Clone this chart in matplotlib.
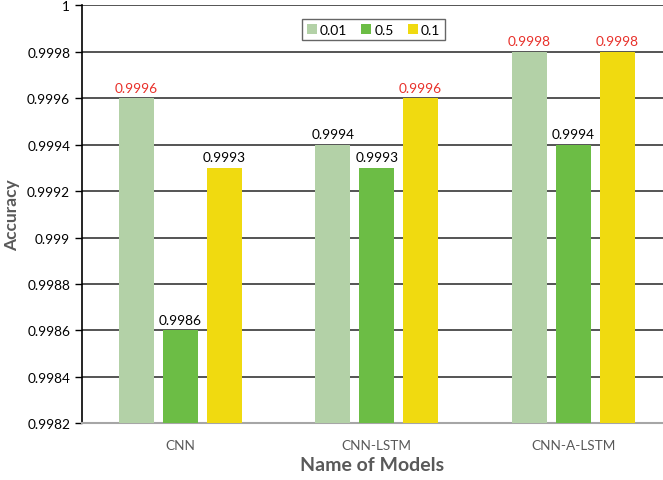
import numpy as np
import matplotlib.pyplot as plt

plt.rcParams['font.family'] = ['Lato', 'DejaVu Sans']

models = ['CNN', 'CNN-LSTM', 'CNN-A-LSTM']
rates = ['0.01', '0.5', '0.1']
acc_001 = [0.9996, 0.9994, 0.9998]
acc_05 = [0.9986, 0.9993, 0.9994]
acc_01 = [0.9993, 0.9996, 0.9998]
colors = ['#B3D1A7', '#6CBD45', '#F0DA10']

series = [acc_001, acc_05, acc_01]
x = np.arange(len(models))
width = 0.178
step = 0.223

fig = plt.figure(figsize=(6.63, 4.81), dpi=100)
ax = fig.add_axes([0.1237, 0.118, 0.8763, 0.8685])

ymin = 0.9982
for i, (vals, c, lab) in enumerate(zip(series, colors, rates)):
    pos = x + (i - 1) * step
    ax.bar(pos, np.array(vals) - ymin, width, bottom=ymin, color=c, label=lab, zorder=3)

# value labels, best value per model in red
best = np.max(np.array(series), axis=0)
for i, vals in enumerate(series):
    for j, v in enumerate(vals):
        col = '#E8302A' if v == best[j] else 'black'
        ax.text(x[j] + (i - 1) * step, v + 0.00002, f'{v:.4f}', ha='center', va='bottom',
                fontsize=9.8, color=col, zorder=4)

ax.set_xlim(-0.5, 2.457)
ax.set_ylim(0.9982, 1.0)
ax.set_yticks(np.arange(0.9982, 1.00001, 0.0002))
ax.set_yticklabels(['0.9982', '0.9984', '0.9986', '0.9988', '0.999', '0.9992',
                    '0.9994', '0.9996', '0.9998', '1'], fontsize=9.8)
ax.set_xticks(x)
ax.set_xticklabels(models, fontsize=9.8, color='#595959')
ax.tick_params(axis='x', length=0, pad=11)
ax.tick_params(axis='y', length=5, width=1, color='black', direction='out')
ax.yaxis.grid(True, color='#262626', linewidth=1.1, zorder=0)

for s in ['top', 'right']:
    ax.spines[s].set_visible(False)
ax.spines['left'].set_color('black')
ax.spines['left'].set_linewidth(1.2)
ax.spines['bottom'].set_color('#A6A6A6')
ax.spines['bottom'].set_linewidth(1.5)

ax.set_ylabel('Accuracy', fontsize=12.5, fontweight='bold', color='#595959', labelpad=5)
ax.set_xlabel('Name of Models', fontsize=14, fontweight='bold', color='#595959', labelpad=4)

leg = ax.legend(loc='upper center', bbox_to_anchor=(0.502, 0.985), ncol=3, fontsize=10,
                frameon=True, fancybox=False, edgecolor='#404040', handlelength=0.7,
                handleheight=0.7, handletextpad=0.25, columnspacing=1.0,
                borderpad=0.35)
leg.get_frame().set_linewidth(1.0)

fig.savefig('out.png', dpi=100)
